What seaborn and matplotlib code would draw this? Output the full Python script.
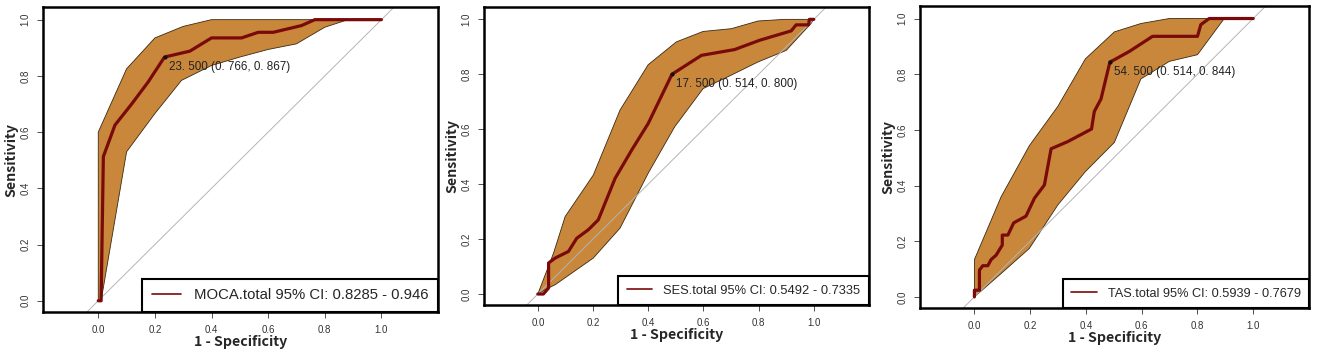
import numpy as np
import matplotlib
matplotlib.use("Agg")
import matplotlib.pyplot as plt
import seaborn as sns

sns.set_style("white")
plt.rcParams['font.family'] = ['Liberation Sans', 'DejaVu Sans']

# ---------------- data ----------------
names = ["MOCA.total", "SES.total", "TAS.total"]
legend_labels = ["MOCA.total 95% CI: 0.8285 - 0.946",
                 "SES.total 95% CI: 0.5492 - 0.7335",
                 "TAS.total 95% CI: 0.5939 - 0.7679"]
thr_labels = ["23. 500 (0. 766, 0. 867)",
              "17. 500 (0. 514, 0. 800)",
              "54. 500 (0. 514, 0. 844)"]
thr_x = [0.234, 0.486, 0.486]
thr_y = [0.867, 0.800, 0.844]

moca_fpr = [0, 0.01, 0.018, 0.059, 0.118, 0.176, 0.234, 0.3235, 0.4, 0.506, 0.565, 0.618, 0.718, 0.765, 1.0]
moca_tpr = [0, 0, 0.513, 0.625, 0.70, 0.778, 0.867, 0.888, 0.935, 0.935, 0.955, 0.955, 0.979, 1.0, 1.0]
moca_hi_x = [0, 0, 0.1, 0.2, 0.3, 0.4, 1.0]
moca_hi_y = [0, 0.6, 0.825, 0.935, 0.976, 1.0, 1.0]
moca_lo_x = [0.01, 0.1, 0.2, 0.294, 0.4, 0.5, 0.6, 0.7, 0.8, 0.882, 1.0]
moca_lo_y = [0, 0.53, 0.666, 0.784, 0.837, 0.867, 0.894, 0.914, 0.973, 1.0, 1.0]

ses_fpr = [0, 0.02, 0.039, 0.039, 0.063, 0.111, 0.141, 0.183, 0.219, 0.28, 0.34, 0.4, 0.486, 0.593, 0.713, 0.804, 0.918, 0.936, 0.981, 0.984, 1.0]
ses_tpr = [0, 0, 0.022, 0.113, 0.131, 0.155, 0.203, 0.234, 0.27, 0.421, 0.524, 0.621, 0.8, 0.869, 0.89, 0.924, 0.958, 0.98, 0.98, 1.0, 1.0]
ses_hi_x = [0, 0.057, 0.099, 0.201, 0.298, 0.4, 0.502, 0.599, 0.701, 0.798, 0.894, 1.0]
ses_hi_y = [0, 0.149, 0.282, 0.433, 0.67, 0.835, 0.918, 0.956, 0.966, 0.994, 1.0, 1.0]
ses_lo_x = [0.027, 0.063, 0.201, 0.298, 0.4, 0.496, 0.599, 0.701, 0.798, 0.9, 0.99, 1.0]
ses_lo_y = [0.016, 0.034, 0.131, 0.24, 0.44, 0.609, 0.748, 0.797, 0.845, 0.887, 0.985, 1.0]

tas_fpr = [0, 0, 0.018, 0.018, 0.03, 0.048, 0.06, 0.078, 0.1, 0.1, 0.12, 0.141, 0.185, 0.215, 0.251, 0.275, 0.335, 0.42, 0.43, 0.454, 0.486, 0.502, 0.556, 0.639, 0.8, 0.812, 0.842, 1.0]
tas_tpr = [0, 0.024, 0.024, 0.096, 0.112, 0.112, 0.134, 0.15, 0.186, 0.222, 0.222, 0.266, 0.29, 0.354, 0.402, 0.532, 0.558, 0.603, 0.666, 0.711, 0.844, 0.852, 0.882, 0.936, 0.936, 0.978, 1.0, 1.0]
tas_hi_x = [0, 0, 0.096, 0.197, 0.299, 0.398, 0.502, 0.597, 0.699, 1.0]
tas_hi_y = [0, 0.134, 0.36, 0.543, 0.684, 0.855, 0.952, 0.982, 1.0, 1.0]
tas_lo_x = [0.096, 0.197, 0.299, 0.398, 0.502, 0.597, 0.699, 0.8, 0.896, 1.0]
tas_lo_y = [0.084, 0.174, 0.33, 0.45, 0.555, 0.783, 0.846, 0.87, 1.0, 1.0]

ticks = [0.0, 0.2, 0.4, 0.6, 0.8, 1.0]
tick_labels = ["0.0", "0.2", "0.4", "0.6", "0.8", "1.0"]

curves = [(moca_fpr, moca_tpr), (ses_fpr, ses_tpr), (tas_fpr, tas_tpr)]
bands = [(moca_hi_x, moca_hi_y, moca_lo_x, moca_lo_y),
         (ses_hi_x, ses_hi_y, ses_lo_x, ses_lo_y),
         (tas_hi_x, tas_hi_y, tas_lo_x, tas_lo_y)]

# ---------------- layout / style ----------------
positions = [[0.0323, 0.1357, 0.2963, 0.8449],
             [0.3631, 0.1551, 0.2888, 0.8255],
             [0.6902, 0.1468, 0.2918, 0.8366]]
legend_fs = [10.7, 9.3, 9.2]
band_color = "#C8873A"
line_color = "#7A0A0A"
label_font = ['Noto Sans CJK SC', 'DejaVu Sans']

fig = plt.figure(figsize=(13.33, 3.61), dpi=100)

for i in range(3):
    ax = fig.add_axes(positions[i])
    hx, hy, lx, ly = bands[i]
    poly_x = np.concatenate([hx, lx[::-1]])
    poly_y = np.concatenate([hy, ly[::-1]])
    ax.fill(poly_x, poly_y, facecolor=band_color, edgecolor="#3A2A12",
            linewidth=0.6, zorder=1)
    ax.axline((0, 0), (1, 1), color="#B5B5B5", linewidth=0.7, zorder=2)
    fpr, tpr = curves[i]
    sns.lineplot(x=fpr, y=tpr, sort=False, estimator=None, ax=ax,
                 color=line_color, linewidth=2.3, zorder=3, label=legend_labels[i])
    ax.plot(thr_x[i], thr_y[i], 'o', color="#111111", markersize=2.0, zorder=4)
    ax.annotate(thr_labels[i], (thr_x[i], thr_y[i]), xytext=(3, -7),
                textcoords="offset points", ha="left", va="center",
                fontsize=8.4, color="#222222", zorder=5)

    ax.set_xlim(-0.195, 1.2)
    ax.set_ylim(-0.04, 1.045)
    ax.set_xticks(ticks)
    ax.set_xticklabels(tick_labels, fontsize=7)
    ax.set_yticks(ticks)
    ax.set_yticklabels(tick_labels, fontsize=7, rotation=90, va="center")
    ax.tick_params(axis="x", direction="out", length=4, width=0.6, pad=5,
                   bottom=True, colors="#333333")
    ax.tick_params(axis="y", direction="out", length=4, width=0.6, pad=5,
                   left=True, colors="#333333")
    for sp in ax.spines.values():
        sp.set_visible(True)
        sp.set_color("black")
        sp.set_linewidth(1.8)

    ax.set_xlabel("1 - Specificity", fontsize=10.2, family=label_font,
                  fontweight="bold")
    ax.set_ylabel("Sensitivity", fontsize=10.2, family=label_font,
                  fontweight="bold")
    h_px = positions[i][3] * 361
    w_px = positions[i][2] * 1333
    ax.xaxis.set_label_coords(0.5, -23 / h_px)
    ax.yaxis.set_label_coords(-25 / w_px, 0.5)

    leg = ax.legend(loc="lower right", bbox_to_anchor=(1, 0), borderaxespad=0,
                    frameon=True, fancybox=False, framealpha=1,
                    edgecolor="black", fontsize=legend_fs[i],
                    handlelength=2.0, handletextpad=0.85, borderpad=0.65)
    leg.get_frame().set_linewidth(1.5)
    for lh in leg.get_lines():
        lh.set_linewidth(1.2)
    leg.set_zorder(6)

fig.savefig("out.png", dpi=100)
